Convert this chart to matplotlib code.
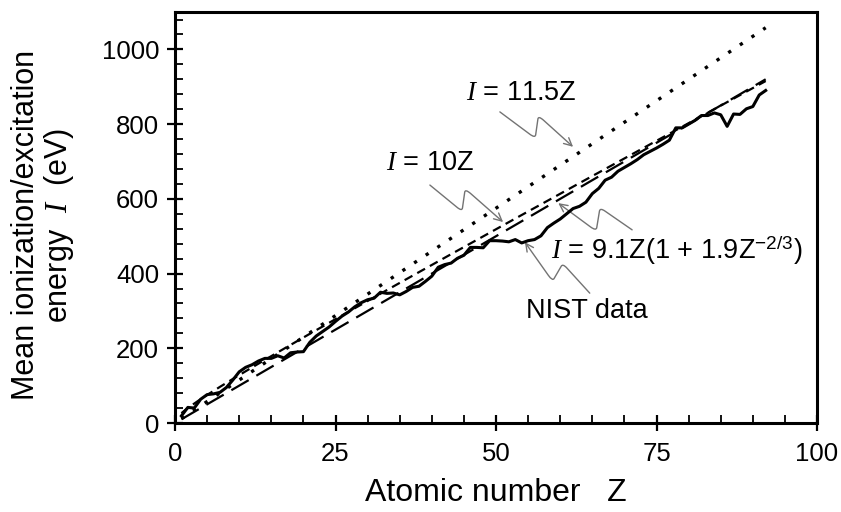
import numpy as np
import matplotlib
matplotlib.use("Agg")
import matplotlib.pyplot as plt
from matplotlib.path import Path
from matplotlib.patches import FancyArrowPatch
from matplotlib.ticker import MultipleLocator

plt.rcParams['font.family'] = ['Liberation Sans', 'DejaVu Sans']
plt.rcParams['mathtext.fontset'] = 'custom'
plt.rcParams['mathtext.rm'] = 'Liberation Sans'
plt.rcParams['mathtext.it'] = 'Liberation Serif:italic'

# mean excitation energies (eV), Z = 1..92
z_nist = np.arange(1, 93)
i_nist = [19.2, 41.8, 40.0, 63.7, 76.0, 78.0, 82.0, 95.0, 115.0, 137.0,
          149.0, 156.0, 166.0, 173.0, 173.0, 180.0, 174.0, 188.0, 190.0, 191.0,
          216.0, 233.0, 245.0, 257.0, 272.0, 286.0, 297.0, 311.0, 322.0, 330.0,
          334.0, 350.0, 347.0, 348.0, 343.0, 352.0, 363.0, 366.0, 379.0, 393.0,
          417.0, 424.0, 428.0, 441.0, 449.0, 470.0, 470.0, 469.0, 488.0, 488.0,
          487.0, 485.0, 491.0, 482.0, 488.0, 491.0, 501.0, 523.0, 535.0, 546.0,
          560.0, 574.0, 580.0, 591.0, 614.0, 628.0, 650.0, 658.0, 674.0, 684.0,
          694.0, 705.0, 718.0, 727.0, 736.0, 746.0, 757.0, 790.0, 790.0, 800.0,
          810.0, 823.0, 823.0, 830.0, 825.0, 794.0, 827.0, 826.0, 841.0, 847.0,
          878.0, 890.0]

# simple models
k_high = 11.5
k_low = 10.0
fit_a = 9.1
fit_b = 1.9

z = np.linspace(1, 92, 300)
i_high = k_high * z
i_low = k_low * z
i_fit = fit_a * z * (1 + fit_b * z ** (-2.0 / 3.0))

fig = plt.figure(figsize=(8.41, 5.12), dpi=100)
ax = fig.add_axes([0.2081, 0.1738, 0.7634, 0.8027])

ax.plot(z, i_high, color='black', lw=2.4, linestyle=(0, (1, 3.2)))
ax.plot(z, i_low, color='black', lw=1.6, linestyle=(0, (9, 4)))
ax.plot(z, i_fit, color='black', lw=1.6, linestyle=(0, (4, 2.5)))
ax.plot(z_nist, i_nist, color='black', lw=2.2)

ax.set_xlim(0, 100)
ax.set_ylim(0, 1100)
ax.xaxis.set_major_locator(MultipleLocator(25))
ax.xaxis.set_minor_locator(MultipleLocator(5))
ax.yaxis.set_major_locator(MultipleLocator(200))
ax.yaxis.set_minor_locator(MultipleLocator(40))
ax.set_yticks([0, 200, 400, 600, 800, 1000])
ax.tick_params(which='major', direction='inout', length=11, width=1.6,
               labelsize=18.5, colors='black')
ax.tick_params(which='minor', direction='in', length=6, width=1.3)
ax.tick_params(axis='x', which='major', pad=8)
ax.tick_params(axis='y', which='major', pad=6)
ax.tick_params(top=False, right=False, which='both')
for s in ax.spines.values():
    s.set_linewidth(2.2)

ax.set_xlabel('Atomic number   Z', fontsize=23, labelpad=9)
fig.text(0.052, 0.56, 'Mean ionization/excitation\nenergy  $I$  (eV)',
         rotation=90, ha='center', va='center', fontsize=22,
         multialignment='center', linespacing=1.05)


def squiggle(pts, r=0.15):
    # zigzag leader with slightly rounded bends, arrow head at the last point
    p = [np.array(q) for q in pts]
    verts = [p[0]]
    codes = [Path.MOVETO]
    for k in (1, 2):
        a = p[k] + (p[k - 1] - p[k]) * r
        b = p[k] + (p[k + 1] - p[k]) * r
        verts += [a, p[k], b]
        codes += [Path.LINETO, Path.CURVE3, Path.CURVE3]
    verts.append(p[3])
    codes.append(Path.LINETO)
    arr = FancyArrowPatch(path=Path(verts, codes), arrowstyle='->',
                          mutation_scale=14, transform=ax.transAxes,
                          color='0.45', lw=1.0)
    ax.add_patch(arr)


lab = 19.5
ax.text(0.540, 0.803, '$I$ = 11.5Z', transform=ax.transAxes,
        ha='center', va='center', fontsize=lab)
squiggle([(0.506, 0.757), (0.561, 0.693), (0.566, 0.748), (0.620, 0.672)])

ax.text(0.397, 0.633, '$I$ = 10Z', transform=ax.transAxes,
        ha='center', va='center', fontsize=lab)
squiggle([(0.397, 0.579), (0.447, 0.515), (0.452, 0.570), (0.511, 0.489)])

ax.text(0.782, 0.421, '$I$ = 9.1Z(1 + 1.9Z$^{-2/3}$)', transform=ax.transAxes,
        ha='center', va='center', fontsize=lab)
squiggle([(0.712, 0.470), (0.662, 0.524), (0.656, 0.467), (0.597, 0.535)])

ax.text(0.642, 0.272, 'NIST data', transform=ax.transAxes,
        ha='center', va='center', fontsize=lab)
squiggle([(0.646, 0.316), (0.604, 0.388), (0.588, 0.345), (0.545, 0.440)])

fig.savefig('out.png', dpi=100)
